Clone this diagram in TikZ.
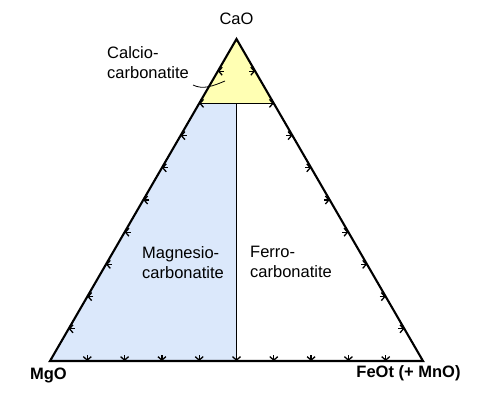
\documentclass[tikz,border=0pt]{standalone}
\usepackage{fontspec}
\setmainfont{Liberation Sans}
\usetikzlibrary{calc,arrows.meta}
\definecolor{calciofill}{HTML}{FFFFB3}
\definecolor{magfill}{HTML}{DBE8FB}
\tikzset{
  edge/.style={line width=2.1pt, line join=miter},
  divline/.style={line width=1.1pt},
  tickmark/.style={line width=1.3pt, -{Straight Barb[length=3.5pt,width=8pt]}},
  leader/.style={line width=0.8pt},
  lbl/.style={inner sep=0pt, font=\fontsize{16.5}{20}\selectfont, align=left, anchor=north west},
  corner/.style={inner sep=0pt, font=\fontsize{16.5}{20}\selectfont\bfseries, anchor=base},
}
\begin{document}
\begin{tikzpicture}[x=1pt,y=-1pt]
\useasboundingbox (0,0) rectangle (500,406);
\coordinate (A) at (50,361);
\coordinate (B) at (423,361);
\coordinate (C) at (236.5,39);
\coordinate (L8) at ($(A)!0.8!(C)$);
\coordinate (R8) at ($(B)!0.8!(C)$);
\coordinate (M) at ($(A)!0.5!(B)$);
\coordinate (T) at (M |- L8);
% fills
\fill[calciofill] (C) -- (L8) -- (R8) -- cycle;
\fill[magfill] (A) -- (M) -- (T) -- (L8) -- cycle;
% division lines
\draw[divline] (M) -- (T);
\draw[divline] (L8) -- (R8);
% ticks
\foreach \i in {1,...,9}{
  \draw[tickmark] ($(A)!0.\i!(B)+(0,-6)$) -- ($(A)!0.\i!(B)$);
  \draw[tickmark] ($(A)!0.\i!(C)+(6,0)$) -- ($(A)!0.\i!(C)$);
  \draw[tickmark] ($(B)!0.\i!(C)+(-6,0)$) -- ($(B)!0.\i!(C)$);
}
% outline
\draw[edge] (A) -- (B) -- (C) -- cycle;
% labels
\node[corner, font=\fontsize{16.5}{20}\selectfont] (cao) at (236.5,25) {CaO};
\node[corner] (mgo) at (48.5,379) {MgO};
\node[corner] (feo) at (408.5,377) {FeOt (+ MnO)};
\node[lbl] (calcio) at (107,46) {Calcio-\\carbonatite};
\node[lbl] (magnesio) at (142,246) {Magnesio-\\carbonatite};
\node[lbl] (ferro) at (250,246) {Ferro-\\carbonatite};
% leader
\coordinate (lead1) at (193,85);
\coordinate (lead2) at (225,81);
\draw[leader] (lead1) .. controls (203,90) and (213,86) .. (lead2);
\end{tikzpicture}
\end{document}
